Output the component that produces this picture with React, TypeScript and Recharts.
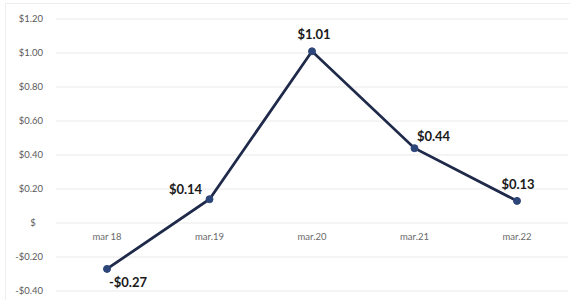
import {
  LineChart,
  Line,
  XAxis,
  YAxis,
  CartesianGrid,
  LabelList,
  ReferenceDot,
} from "recharts";

const CATEGORIES = ["mar 18", "mar.19", "mar.20", "mar.21", "mar.22"];
const VALUES = [-0.27, 0.14, 1.01, 0.44, 0.13];
const Y_TICKS = [-0.4, -0.2, 0, 0.2, 0.4, 0.6, 0.8, 1.0, 1.2];

// where each data label sits relative to its point (Excel-like placement)
const LABEL_OFFSETS: [number, number][] = [
  [21, 13],
  [-24, -10],
  [2, -17],
  [19, -12],
  [1, -17],
];

const data = CATEGORIES.map((c, i) => ({ cat: c, value: VALUES[i] }));

const money = (v: number) =>
  v < 0 ? `-$${Math.abs(v).toFixed(2)}` : `$${v.toFixed(2)}`;

const tickMoney = (v: number) =>
  Math.abs(v) < 1e-9 ? "$\u00a0\u00a0\u00a0" : money(v);

function ValueLabel(props: any) {
  const { x, y, value, index } = props;
  const [dx, dy] = LABEL_OFFSETS[index] || [0, -15];
  return (
    <text
      x={x + dx}
      y={y + dy}
      textAnchor="middle"
      dominantBaseline="central"
      fontFamily="Lato, sans-serif"
      fontWeight={700}
      fontSize={13}
      fill="#1a1a1a"
    >
      {money(value)}
    </text>
  );
}

export default function App() {
  return (
    <div
      style={{
        position: "absolute",
        left: 0,
        top: 0,
        width: 570,
        height: 300,
        background: "#fff",
      }}
    >
      <div
        style={{
          position: "absolute",
          left: 5,
          top: 3,
          right: 0,
          bottom: 0,
          borderLeft: "1px solid #eeeeee",
          borderTop: "1px solid #eeeeee",
        }}
      />
      <LineChart
        width={570}
        height={300}
        data={data}
        margin={{ top: 19, right: 2, bottom: 9, left: 0 }}
      >
        <CartesianGrid vertical={false} stroke="#e9e9e9" />
        <XAxis dataKey="cat" hide padding={{ left: 51, right: 51 }} />
        <YAxis
          width={56}
          domain={[-0.4, 1.2]}
          ticks={Y_TICKS}
          tickFormatter={tickMoney}
          axisLine={false}
          tickLine={false}
          tickSize={0}
          tickMargin={13}
          tick={{ fontSize: 9.5, fill: "#5a5a5a", fontFamily: "Lato, sans-serif" }}
        />
        {CATEGORIES.map((c) => (
          <ReferenceDot
            key={c}
            x={c}
            y={0}
            r={1}
            fill="none"
            stroke="none"
            label={{
              value: c,
              position: "bottom",
              offset: 9,
              fontSize: 9.5,
              fill: "#6a6a6a",
              fontFamily: "Lato, sans-serif",
            }}
          />
        ))}
        <Line
          type="linear"
          dataKey="value"
          stroke="#1f2a4a"
          strokeWidth={2.8}
          dot={{ r: 3.5, fill: "#2d4679", stroke: "#2d4679", strokeWidth: 1 }}
          isAnimationActive={false}
        >
          <LabelList dataKey="value" content={<ValueLabel />} />
        </Line>
      </LineChart>
    </div>
  );
}
